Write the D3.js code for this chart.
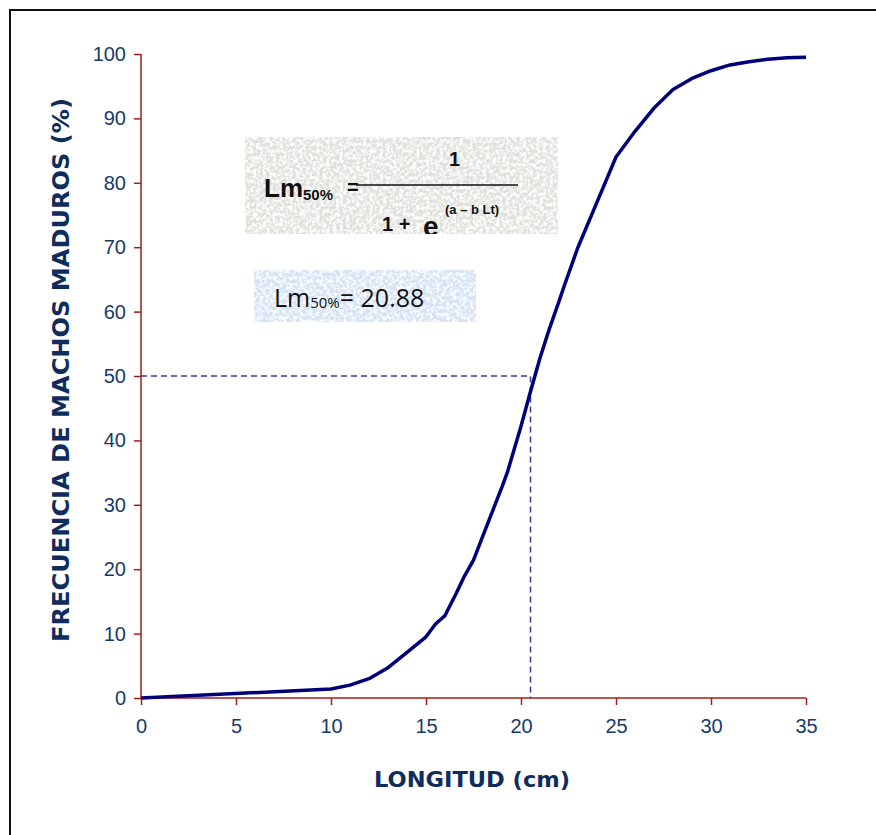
<!DOCTYPE html>
<html>
<head>
<meta charset="utf-8">
<script src="https://cdn.jsdelivr.net/npm/d3@7"></script>
<style>
	body { margin: 0; background: #fff; }
	.tick text { font-family: "Liberation Sans", Arial, sans-serif; font-size: 20px; fill: #173a6a; }
	.axis-title { font-family: "DejaVu Sans", sans-serif; font-weight: bold; fill: #0e2d5c; }
</style>
</head>
<body>
<svg id="chart"></svg>
<script>
// talla (cm) y porcentaje de machos maduros
var longitud = [0, 10, 11, 12, 13, 14, 15, 15.5, 16, 16.6, 17, 17.5, 18, 19, 19.3, 20, 20.5, 21, 21.5, 22, 22.3, 23, 24, 25, 26, 27, 28, 29, 30, 31, 32, 33, 34, 35];
var frecuencia = [0, 1.4, 2.0, 3.0, 4.7, 7.1, 9.5, 11.5, 12.8, 16.3, 18.8, 21.4, 25.2, 32.8, 35.2, 42.2, 47.6, 52.8, 57.4, 61.6, 64.2, 70, 77, 84, 88, 91.6, 94.5, 96.2, 97.4, 98.3, 98.8, 99.2, 99.4, 99.5];
var xTicks = [0, 5, 10, 15, 20, 25, 30, 35];
var yTicks = [0, 10, 20, 30, 40, 50, 60, 70, 80, 90, 100];
var lm50 = [20.5, 50];

var width = 876, height = 835;
var svg = d3.select("#chart").attr("width", width).attr("height", height);

var x = d3.scaleLinear().domain([0, 35]).range([141, 806]);
var y = d3.scaleLinear().domain([0, 100]).range([698, 54]);

// marco
svg.append("rect").attr("x", 10).attr("y", 10).attr("width", width).attr("height", height)
	.attr("fill", "none").attr("stroke", "#111").attr("stroke-width", 2);

// texturas de los cuadros
var defs = svg.append("defs");
function texture(id, r, g, b, seed) {
	var f = defs.append("filter").attr("id", id).attr("x", 0).attr("y", 0).attr("width", 1).attr("height", 1);
	f.append("feTurbulence").attr("type", "fractalNoise").attr("baseFrequency", 0.3).attr("numOctaves", 3).attr("seed", seed).attr("result", "n");
	f.append("feColorMatrix").attr("in", "n").attr("type", "matrix")
		.attr("values", "0 0 0 0 " + r + "  0 0 0 0 " + g + "  0 0 0 0 " + b + "  4 0 0 0 -1.6")
		.attr("result", "c");
	f.append("feComposite").attr("in", "c").attr("in2", "SourceGraphic").attr("operator", "atop").attr("result", "t");
	f.append("feMerge").call(function(m) {
		m.append("feMergeNode").attr("in", "SourceGraphic");
		m.append("feMergeNode").attr("in", "t");
	});
}
texture("grey", 0.98, 0.98, 0.97, 4);
texture("blue", 0.94, 0.97, 1, 7);

svg.append("rect").attr("x", 245).attr("y", 137).attr("width", 313).attr("height", 97)
	.attr("fill", "#e0e0dc").attr("filter", "url(#grey)");
svg.append("rect").attr("x", 254).attr("y", 270).attr("width", 222).attr("height", 52)
	.attr("fill", "#d4e2f1").attr("filter", "url(#blue)");

// formula
var f1 = svg.append("g").attr("font-family", "'Liberation Sans', Arial, sans-serif").attr("font-weight", "bold").attr("fill", "#111");
var t1 = f1.append("text").attr("x", 264).attr("y", 197).attr("font-size", 26);
t1.append("tspan").text("Lm");
t1.append("tspan").attr("font-size", 15).attr("dy", 3).text("50%");
f1.append("text").attr("x", 347).attr("y", 194).attr("font-size", 20).text("=");
f1.append("line").attr("x1", 356).attr("x2", 518).attr("y1", 185).attr("y2", 185).attr("stroke", "#111").attr("stroke-width", 1.5);
f1.append("text").attr("x", 449).attr("y", 166).attr("font-size", 20).text("1");
var clip = defs.append("clipPath").attr("id", "boxclip");
clip.append("rect").attr("x", 245).attr("y", 137).attr("width", 313).attr("height", 97);
var den = f1.append("g").attr("clip-path", "url(#boxclip)");
den.append("text").attr("x", 382).attr("y", 231).attr("font-size", 20).text("1 +");
den.append("text").attr("x", 423).attr("y", 236).attr("font-size", 28).text("e");
den.append("text").attr("x", 445).attr("y", 214).attr("font-size", 13).text("(a \u2013 b  Lt)");

var t2 = svg.append("text").attr("x", 274).attr("y", 307).attr("font-family", "'Open Sans', sans-serif").attr("font-size", 25).attr("fill", "#111");
t2.append("tspan").text("Lm");
t2.append("tspan").attr("font-size", 15).attr("dy", 1).text("50%");
t2.append("tspan").attr("dy", -1).text("= 20.88");

// ejes
var xAxis = svg.append("g").attr("transform", "translate(0," + y(0) + ")")
	.call(d3.axisBottom(x).tickValues(xTicks).tickSize(7).tickPadding(14));
var yAxis = svg.append("g").attr("transform", "translate(" + x(0) + ",0)")
	.call(d3.axisLeft(y).tickValues(yTicks).tickSize(7).tickPadding(8));
svg.selectAll(".domain").attr("stroke", "#a51c1c").attr("stroke-width", 1.5);
svg.selectAll(".tick line").attr("stroke", "#a51c1c").attr("stroke-width", 1.5);
xAxis.select(".domain").attr("d", "M" + x(0) + ",0H" + x(35));
yAxis.select(".domain").attr("d", "M0," + y(0) + "V" + y(100));

// lineas de referencia
svg.append("path")
	.attr("d", "M" + x(0) + "," + y(lm50[1]) + "H" + x(lm50[0]) + "V" + y(0))
	.attr("fill", "none").attr("stroke", "#3a3aa8").attr("stroke-width", 1.5).attr("stroke-dasharray", "6,4");

// curva
var line = d3.line().x(function(d, i) { return x(longitud[i]); }).y(function(d) { return y(d); });
svg.append("path").datum(frecuencia).attr("d", line)
	.attr("fill", "none").attr("stroke", "#00007a").attr("stroke-width", 3.5).attr("stroke-linejoin", "round");

// titulos
svg.append("text").attr("class", "axis-title").attr("x", 472).attr("y", 787).attr("text-anchor", "middle")
	.attr("font-size", 22).attr("textLength", 196).attr("lengthAdjust", "spacingAndGlyphs").text("LONGITUD (cm)");
svg.append("text").attr("class", "axis-title").attr("transform", "translate(69,370) rotate(-90)").attr("text-anchor", "middle")
	.attr("font-size", 23).attr("textLength", 544).attr("lengthAdjust", "spacingAndGlyphs").text("FRECUENCIA DE MACHOS MADUROS (%)");
</script>
</body>
</html>
